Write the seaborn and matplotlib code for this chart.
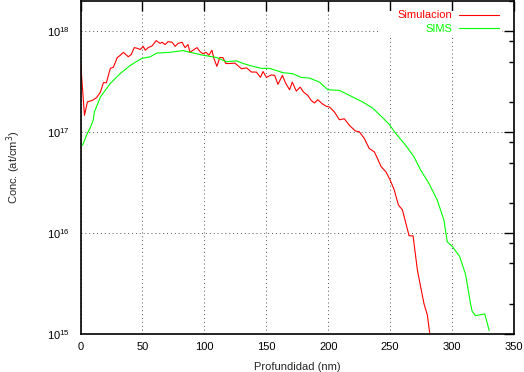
import numpy as np
import pandas as pd
import matplotlib
matplotlib.use("Agg")
import matplotlib.pyplot as plt
import matplotlib.ticker as mticker
from matplotlib.patches import Rectangle
import seaborn as sns

# --- datos ---
sim_depth = [0, 3.2, 5.6, 9.6, 12.9, 16.1, 18.5, 20.9, 24.1, 26.5, 29.7, 32.2, 34.6, 38.6,
             41.0, 43.4, 45.8, 48.2, 50.6, 52.3, 54.7, 57.9, 61.1, 64.3, 65.9, 68.3, 70.7,
             74.0, 76.4, 78.8, 82.0, 84.4, 86.8, 88.4, 90.8, 94.1, 96.5, 98.9, 101.3, 103.7,
             106.1, 107.7, 110.1, 112.5, 114.9, 117.4, 120.6, 124.6, 130.0, 134.0, 138.0,
             142.0, 145.3, 147.4, 150.1, 154.1, 156.8, 159.4, 163.0, 165.6, 168.8, 171.0,
             174.2, 177.4, 180.1, 183.5, 186.2, 188.9, 191.6, 195.1, 198.3, 201.0, 205.0,
             209.0, 213.0, 217.1, 221.9, 225.1, 229.1, 233.1, 237.2, 239.8, 242.5, 246.6,
             249.8, 253.2, 256.7, 259.9, 265.3, 268.5, 272.0, 277.3, 280.0, 282.3]
sim_conc = [5.1e17, 1.47e17, 2.0e17, 2.07e17, 2.2e17, 2.5e17, 3.1e17, 3.1e17, 4.3e17, 4.4e17,
            5.5e17, 5.8e17, 6.2e17, 5.6e17, 5.9e17, 6.9e17, 6.8e17, 6.6e17, 7.1e17, 6.5e17,
            6.9e17, 7.2e17, 8.1e17, 7.6e17, 7.8e17, 7.4e17, 7.9e17, 7.8e17, 7.1e17, 7.6e17,
            7.8e17, 6.9e17, 7.4e17, 6.2e17, 6.5e17, 6.9e17, 6.3e17, 6.0e17, 6.2e17, 5.8e17,
            6.5e17, 5.4e17, 4.5e17, 5.5e17, 5.5e17, 4.8e17, 4.8e17, 4.85e17, 4.26e17, 4.35e17,
            3.95e17, 3.95e17, 3.5e17, 4.0e17, 3.5e17, 3.7e17, 3.66e17, 2.98e17, 3.66e17,
            3.07e17, 2.64e17, 3.14e17, 2.56e17, 2.8e17, 2.5e17, 2.32e17, 2.07e17, 1.95e17,
            2.1e17, 1.92e17, 1.81e17, 1.78e17, 1.59e17, 1.33e17, 1.36e17, 1.17e17, 1.03e17,
            1.01e17, 8.7e16, 6.9e16, 6.4e16, 5.5e16, 4.6e16, 4.05e16, 3.4e16, 2.7e16, 1.9e16,
            1.7e16, 9.4e15, 9.4e15, 4.3e15, 2.0e15, 1.55e15, 9.5e14]

sims_depth = [1.6, 4.8, 8.0, 10.2, 11.3, 16.1, 24.1, 32.2, 40.2, 49.6, 56.3, 61.7, 72.4, 82.8,
              88.4, 99.1, 109.9, 117.9, 126.0, 131.3, 139.3, 146.1, 152.7, 163.4, 171.5,
              178.2, 184.9, 192.9, 199.6, 209.0, 217.1, 227.7, 235.8, 243.8, 249.2, 254.6,
              262.6, 269.3, 274.7, 281.4, 288.0, 293.4, 296.1, 300.1, 306.0, 310.9, 314.9,
              316.2, 318.9, 326.4, 330.0]
sims_conc = [7.4e16, 9.3e16, 1.12e17, 1.31e17, 1.6e17, 2.24e17, 3.05e17, 3.83e17, 4.6e17,
             5.4e17, 5.6e17, 6.1e17, 6.2e17, 6.45e17, 6.2e17, 5.8e17, 5.5e17, 5.0e17, 5.1e17,
             4.8e17, 4.5e17, 4.3e17, 4.3e17, 3.9e17, 3.8e17, 3.5e17, 3.44e17, 3.14e17, 2.64e17,
             2.6e17, 2.32e17, 2.0e17, 1.74e17, 1.4e17, 1.2e17, 9.7e16, 7.4e16, 5.7e16, 4.2e16,
             3.1e16, 2.13e16, 1.35e16, 8.2e15, 7.4e15, 5.9e15, 3.9e15, 2.0e15, 1.68e15, 1.52e15,
             1.58e15, 1.08e15]

series = ["Simulacion", "SIMS"]
colores = {"Simulacion": "#ff0000", "SIMS": "#00ff00"}

df = pd.concat([
    pd.DataFrame({"depth": sim_depth, "conc": sim_conc, "serie": "Simulacion"}),
    pd.DataFrame({"depth": sims_depth, "conc": sims_conc, "serie": "SIMS"}),
], ignore_index=True)

sns.set_style("white")
plt.rcParams['font.family'] = ['Liberation Sans', 'DejaVu Sans']
plt.rcParams['font.size'] = 8

fig = plt.figure(figsize=(5.24, 3.72), dpi=100)
ax = fig.add_axes([80.5 / 524, 38 / 372, 433.5 / 524, 333 / 372])

sns.lineplot(data=df, x="depth", y="conc", hue="serie", hue_order=series,
             palette=colores, estimator=None, sort=False, lw=0.8, ax=ax, legend=False)

ax.set_yscale("log")
ax.set_xlim(0, 350)
ax.set_ylim(1e15, 2e18)
ax.xaxis.set_major_locator(mticker.MultipleLocator(50))
ax.yaxis.set_major_locator(mticker.LogLocator(base=10, numticks=10))
ax.yaxis.set_minor_locator(mticker.LogLocator(base=10, subs=(2, 5, 8), numticks=10))
ax.yaxis.set_minor_formatter(mticker.NullFormatter())

ax.grid(True, which="major", ls=(0, (1, 3)), color="#555555", lw=0.7)
ax.tick_params(which="both", direction="in", top=True, right=True, colors="black")
ax.tick_params(which="major", length=7, width=1)
ax.tick_params(which="minor", length=3.5, width=1)
ax.tick_params(axis="y", which="major", pad=8, labelsize=8)
ax.tick_params(axis="x", which="major", pad=6, labelsize=8)
for s in ax.spines.values():
    s.set_color("black")
    s.set_linewidth(1.2)

ax.set_xlabel("Profundidad (nm)", fontsize=8, labelpad=7)
ax.set_ylabel("Conc. (at/cm$^3$)", fontsize=8, labelpad=17)

# fondo blanco de la leyenda (tapa la rejilla, no los ejes)
ax.add_patch(Rectangle((0.6886, 0.8979), 0.2837, 0.072, transform=ax.transAxes,
                       facecolor="white", edgecolor="none", zorder=1))

ax.legend(handles=ax.lines[:2], labels=series, loc="upper right",
          bbox_to_anchor=(0.9654, 0.9715), markerfirst=False,
          labelcolor="linecolor", frameon=False, fontsize=8, handlelength=3.6,
          handletextpad=0.6, borderaxespad=0, borderpad=0, labelspacing=0.3)

fig.savefig("out.png", dpi=100)
